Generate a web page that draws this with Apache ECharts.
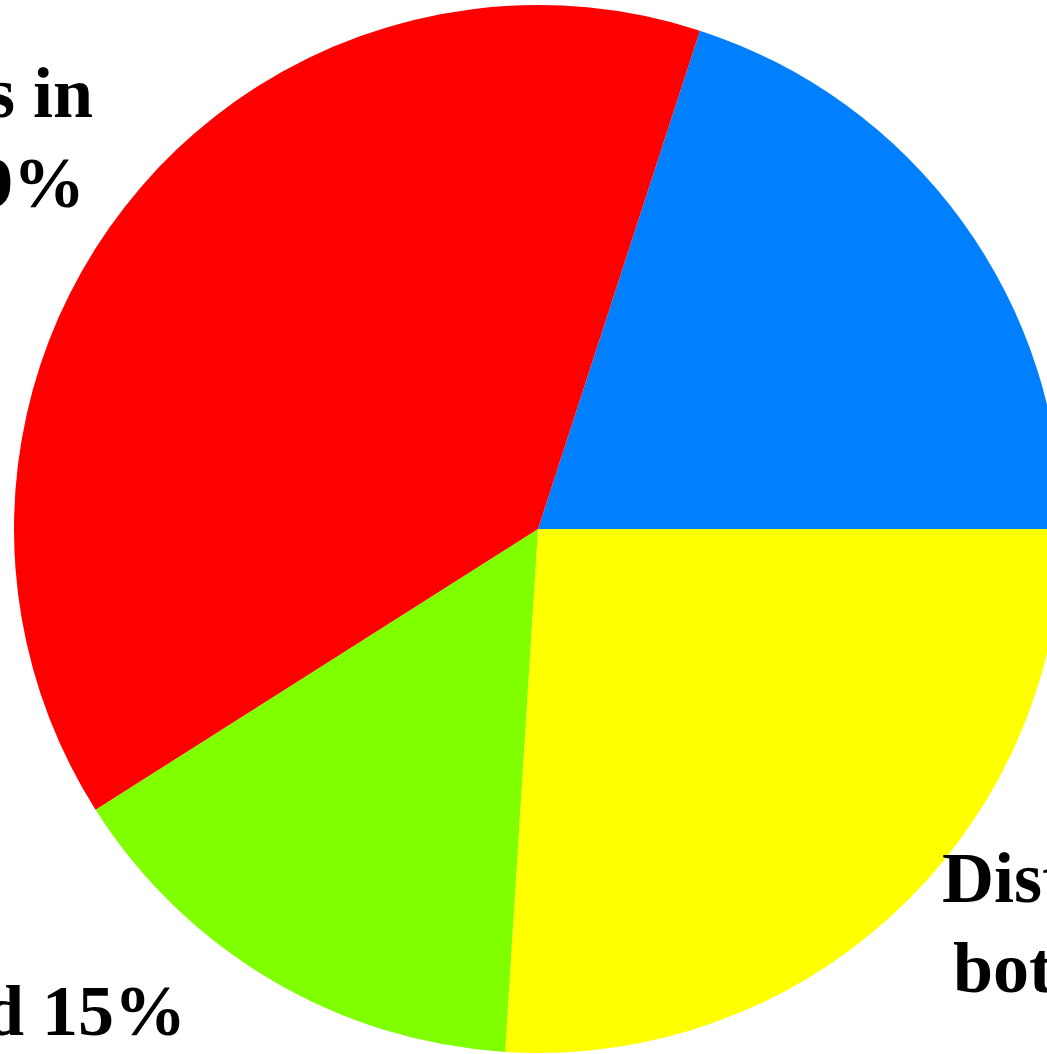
<!DOCTYPE html>
<html>
<head>
<meta charset="utf-8">
<script src="https://cdn.jsdelivr.net/npm/echarts@6/dist/echarts.min.js"></script>
<style>
html,body{margin:0;padding:0;background:#fff;}
#c{width:1047px;height:1054px;}
</style>
</head>
<body>
<div id="c"></div>
<script>
// Data (clockwise from the top-right)
const categories = ['Shifts in\nlocation', 'Distinct in\nboth', 'Unchanged', 'Differences in\nsize'];
const values = [20, 26, 15, 39];
const colors = ['#0080FF', '#FFFF00', '#80FF00', '#FF0000'];

// Label placement (layout only)
const labelPlaces = [
  {x: 1120, y: 300, align: 'left', shift: 0},
  {x: 942, y: 838, align: 'left', shift: 11},
  {x: 186, y: 971, align: 'right', shift: 0},
  {x: 93, y: 53, align: 'right', shift: 8}
];

const chart = echarts.init(document.getElementById('c'), null, {renderer: 'canvas'});
const font = {fontFamily: '"Liberation Serif", "Times New Roman", serif', fontWeight: 'bold', fontSize: 72, color: '#000', lineHeight: 90};

chart.setOption({
  animation: false,
  backgroundColor: '#fff',
  series: [{
    type: 'pie',
    center: [538, 529],
    radius: [0, 524],
    startAngle: 72,
    clockwise: true,
    avoidLabelOverlap: false,
    emphasis: {disabled: true},
    itemStyle: {borderWidth: 0},
    labelLine: {show: false},
    label: {
      show: true,
      position: 'outside',
      formatter: function (p) {
        const lines = p.name.split('\n');
        lines[lines.length - 1] = lines[lines.length - 1] + ' ' + p.value + '%';
        if (lines.length === 1) return '{a|' + lines[0] + '}';
        const sh = labelPlaces[p.dataIndex];
        return '{a|' + lines[0] + '}\n{' + (sh.align === 'left' ? 'l' : 'r') + sh.shift + '|' + lines[1] + '}';
      },
      rich: {
        a: Object.assign({}, font),
        l0: Object.assign({}, font),
        r0: Object.assign({}, font),
        l11: Object.assign({padding: [0, 0, 0, 11]}, font),
        r8: Object.assign({padding: [0, 8, 0, 0]}, font)
      },
      ...font
    },
    labelLayout: function (params) {
      const lp = labelPlaces[params.dataIndex];
      return {x: lp.x, y: lp.y, align: lp.align, verticalAlign: 'top', hideOverlap: false};
    },
    data: categories.map((c, i) => ({name: c, value: values[i], itemStyle: {color: colors[i]}}))
  }]
});
</script>
</body>
</html>
